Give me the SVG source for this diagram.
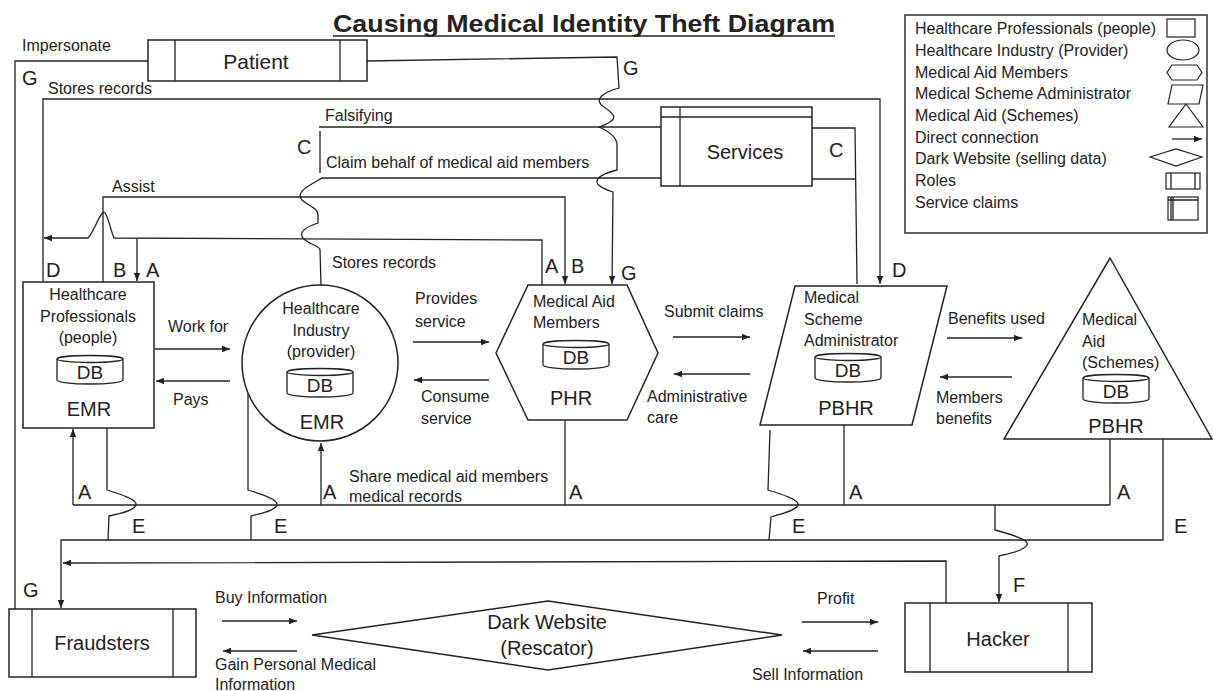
<svg xmlns="http://www.w3.org/2000/svg" xmlns:xlink="http://www.w3.org/1999/xlink" width="1213" height="691" viewBox="0 0 1213 691">
  <style>
    text { font-family: "Liberation Sans", Arial, sans-serif; fill: #222; }
    .t { font-size: 16px; }
    .big { font-size: 20px; }
    .key { font-size: 20px; }
    .mid { text-anchor: middle; }
    .ln { fill: none; stroke: #222; stroke-width: 1.3; }
    .arr { marker-end: url(#ah); }
    .nd { fill: #fff; stroke: #222; stroke-width: 1.5; }
    .sm { fill: #fff; stroke: #222; stroke-width: 1.2; }
  </style>
  <defs>
    <marker id="ah" viewBox="0 0 8 8" refX="8" refY="4" markerWidth="8" markerHeight="8" markerUnits="userSpaceOnUse" orient="auto">
      <path d="M0,0.8 L8,4 L0,7.2 Z" fill="#222"/>
    </marker>
    <!-- database cylinder, 66 x 29 -->
    <g id="db">
      <path d="M0,4 L0,25 A33,4 0 0,0 66,25 L66,4" fill="#fff" stroke="#222" stroke-width="1.3"/>
      <ellipse cx="33" cy="4" rx="33" ry="3.5" fill="#fff" stroke="#222" stroke-width="1.3"/>
    </g>
  </defs>

  <rect width="1213" height="691" fill="#fff"/>

  <!-- title -->
  <text x="333" y="32" font-size="24" font-weight="bold" textLength="502" lengthAdjust="spacingAndGlyphs">Causing Medical Identity Theft Diagram</text>
  <line x1="333" y1="36" x2="835" y2="36" stroke="#222" stroke-width="1.6"/>

  <!-- connectors -->
  <g id="connectors">
    <!-- G: patient impersonated by fraudsters -->
    <path class="ln" d="M148,61 L15,61 L15,613"/>
    <!-- G: patient to medical aid members -->
    <path class="ln arr" d="M367,61 L617,57 L619,88 C605,92 592,99 604,107 C614,114 622,119 599,127 C610,132 617,138 617,145 L617,170 C600,174 584,183 613,192 L612,284"/>
    <!-- D: stores records to scheme administrator -->
    <path class="ln arr" d="M43,281 L43,99 L880,99 L880,284"/>
    <!-- C: falsifying / claims via services -->
    <path class="ln" d="M661,127 L319,127"/>
    <path class="ln" d="M320,131 L320,173"/>
    <path class="ln" d="M661,178 L322,178 C312,184 294,192 302,200 C310,207 318,208 318,215 L318,223 C306,227 296,233 305,240 C313,246 320,246 320,250 L321,285"/>
    <path class="ln" d="M812,128 L855,128 L857,284"/>
    <path class="ln" d="M812,179 L855,179"/>
    <!-- B: assist -->
    <path class="ln arr" d="M103,282 L103,197 L565,197 L565,284"/>
    <!-- A: stores records from medical aid members -->
    <path class="ln arr" d="M542,285 L542,240 L114,238 C110,228 107,212 104,212 C100,212 95,230 88,238 L44,238"/>
    <path class="ln arr" d="M137,238 L137,281"/>

    <!-- horizontal links between the main nodes -->
    <path class="ln arr" d="M155,349 L230,349"/>
    <path class="ln arr" d="M230,381 L156,381"/>
    <path class="ln arr" d="M413,342 L489,342"/>
    <path class="ln arr" d="M489,380 L414,380"/>
    <path class="ln arr" d="M673,337 L750,337"/>
    <path class="ln arr" d="M750,374 L674,374"/>
    <path class="ln arr" d="M947,338 L1022,338"/>
    <path class="ln arr" d="M1012,377 L940,377"/>

    <!-- A: shared medical records bus -->
    <path class="ln" d="M73,505 L1110,505"/>
    <path class="ln arr" d="M73,505 L73,429"/>
    <path class="ln arr" d="M321,505 L321,443"/>
    <path class="ln" d="M565,420 L565,505"/>
    <path class="ln" d="M844,425 L844,505"/>
    <path class="ln" d="M1110,439 L1110,505"/>

    <!-- E: leaked records bus to fraudsters -->
    <path class="ln arr" d="M1163,439 L1163,540 L61,540 L61,608"/>
    <path class="ln" d="M107,428 L107,490 C120,494 138,500 136,505 C134,511 118,514 109,516 L108,540"/>
    <path class="ln" d="M248,393 L248,490 C261,494 279,500 277,505 C275,511 259,514 251,516 L251,540"/>
    <path class="ln" d="M770,430 L768,490 C781,494 800,500 798,505 C796,511 780,514 771,517 L769,540"/>

    <!-- F: records to hacker -->
    <path class="ln arr" d="M995,505 L995,530 C1010,534 1030,540 1027,545 C1024,551 1008,554 999,556 L999,602"/>
    <!-- hacker back to fraudsters -->
    <path class="ln arr" d="M946,603 L946,561 L63,563"/>

    <!-- dark website trade -->
    <path class="ln arr" d="M222,621 L297,621"/>
    <path class="ln arr" d="M297,651 L223,651"/>
    <path class="ln arr" d="M802,622 L878,622"/>
    <path class="ln arr" d="M878,651 L803,651"/>

    <!-- connector labels -->
    <text class="t" x="22" y="51">Impersonate</text>
    <text class="key" x="22" y="85">G</text>
    <text class="t" x="48" y="94">Stores records</text>
    <text class="key" x="623" y="75">G</text>
    <text class="t" x="325" y="121">Falsifying</text>
    <text class="key" x="297" y="154">C</text>
    <text class="t" x="326" y="168">Claim behalf of medical aid members</text>
    <text class="key" x="829" y="157">C</text>
    <text class="t" x="112" y="192">Assist</text>
    <text class="t" x="332" y="268">Stores records</text>
    <text class="key" x="46" y="277">D</text>
    <text class="key" x="113" y="277">B</text>
    <text class="key" x="146" y="277">A</text>
    <text class="key" x="545" y="273">A</text>
    <text class="key" x="571" y="273">B</text>
    <text class="key" x="621" y="280">G</text>
    <text class="key" x="892" y="277">D</text>

    <text class="t" x="168" y="332">Work for</text>
    <text class="t" x="173" y="405">Pays</text>
    <text class="t" x="415" y="304">Provides</text>
    <text class="t" x="415" y="327">service</text>
    <text class="t" x="421" y="402">Consume</text>
    <text class="t" x="421" y="424">service</text>
    <text class="t" x="664" y="317">Submit claims</text>
    <text class="t" x="647" y="402">Administrative</text>
    <text class="t" x="647" y="423">care</text>
    <text class="t" x="948" y="324">Benefits used</text>
    <text class="t" x="936" y="403">Members</text>
    <text class="t" x="936" y="424">benefits</text>

    <text class="key" x="78" y="499">A</text>
    <text class="key" x="323" y="499">A</text>
    <text class="t" x="349" y="482">Share medical aid members</text>
    <text class="t" x="349" y="502">medical records</text>
    <text class="key" x="569" y="499">A</text>
    <text class="key" x="849" y="499">A</text>
    <text class="key" x="1117" y="499">A</text>
    <text class="key" x="132" y="533">E</text>
    <text class="key" x="274" y="533">E</text>
    <text class="key" x="792" y="533">E</text>
    <text class="key" x="1174" y="533">E</text>
    <text class="key" x="1013" y="592">F</text>
    <text class="key" x="23" y="597">G</text>

    <text class="t" x="215" y="603">Buy Information</text>
    <text class="t" x="215" y="670">Gain Personal Medical</text>
    <text class="t" x="215" y="690">Information</text>
    <text class="t" x="817" y="604">Profit</text>
    <text class="t" x="752" y="680">Sell Information</text>
  </g>

  <!-- nodes -->
  <g id="patient">
    <rect class="nd" x="148" y="40" width="219" height="41"/>
    <path class="ln" d="M175,40 L175,81 M340,40 L340,81"/>
    <text class="mid" x="256" y="69" font-size="21">Patient</text>
  </g>

  <g id="services">
    <rect class="nd" x="661" y="107" width="151" height="79"/>
    <path class="ln" d="M680,107 L680,186 M661,117 L812,117"/>
    <text class="big mid" x="745" y="159">Services</text>
  </g>

  <g id="healthcare-professionals">
    <rect class="nd" x="23" y="282" width="131" height="146"/>
    <text class="t mid" x="88" y="300">Healthcare</text>
    <text class="t mid" x="88" y="322">Professionals</text>
    <text class="t mid" x="88" y="343">(people)</text>
    <use xlink:href="#db" x="57" y="355"/>
    <text class="mid" x="90" y="379" font-size="19">DB</text>
    <text class="big mid" x="89" y="416">EMR</text>
  </g>

  <g id="healthcare-industry">
    <circle class="nd" cx="320" cy="363" r="78"/>
    <text class="t mid" x="321" y="314">Healthcare</text>
    <text class="t mid" x="321" y="336">Industry</text>
    <text class="t mid" x="321" y="357">(provider)</text>
    <use xlink:href="#db" x="287" y="368"/>
    <text class="mid" x="320" y="392" font-size="19">DB</text>
    <text class="big mid" x="322" y="429">EMR</text>
  </g>

  <g id="medical-aid-members">
    <polygon class="nd" points="528,285 627,285 658,353 627,420 528,420 496,353"/>
    <text class="t" x="533" y="307">Medical Aid</text>
    <text class="t" x="533" y="328">Members</text>
    <use xlink:href="#db" x="543" y="340"/>
    <text class="mid" x="576" y="364" font-size="19">DB</text>
    <text class="big mid" x="571" y="405">PHR</text>
  </g>

  <g id="scheme-administrator">
    <polygon class="nd" points="795,286 947,286 912,425 760,425"/>
    <text class="t" x="804" y="303">Medical</text>
    <text class="t" x="804" y="325">Scheme</text>
    <text class="t" x="804" y="346">Administrator</text>
    <use xlink:href="#db" x="815" y="353"/>
    <text class="mid" x="848" y="377" font-size="19">DB</text>
    <text class="big mid" x="846" y="415">PBHR</text>
  </g>

  <g id="medical-aid-schemes">
    <polygon class="nd" points="1110,258 1212,439 1004,439"/>
    <text class="t" x="1082" y="325">Medical</text>
    <text class="t" x="1082" y="347">Aid</text>
    <text class="t" x="1082" y="368">(Schemes)</text>
    <use xlink:href="#db" x="1083" y="374"/>
    <text class="mid" x="1116" y="398" font-size="19">DB</text>
    <text class="big mid" x="1116" y="433">PBHR</text>
  </g>

  <g id="fraudsters">
    <rect class="nd" x="9" y="609" width="187" height="68"/>
    <path class="ln" d="M32,609 L32,677 M173,609 L173,677"/>
    <text class="big mid" x="102" y="650">Fraudsters</text>
  </g>

  <g id="dark-website">
    <polygon class="nd" points="312,635 548,601 782,635 548,670"/>
    <text class="big mid" x="547" y="629">Dark Website</text>
    <text class="big mid" x="547" y="655">(Rescator)</text>
  </g>

  <g id="hacker">
    <rect class="nd" x="905" y="603" width="187" height="69"/>
    <path class="ln" d="M930,603 L930,672 M1068,603 L1068,672"/>
    <text class="big mid" x="998" y="646">Hacker</text>
  </g>

  <!-- legend -->
  <g id="legend">
    <rect x="905" y="15" width="302" height="218" fill="#fff" stroke="#222" stroke-width="1.4"/>
    <text class="t" x="915" y="34">Healthcare Professionals (people)</text>
    <text class="t" x="915" y="56">Healthcare Industry (Provider)</text>
    <text class="t" x="915" y="78">Medical Aid Members</text>
    <text class="t" x="915" y="99">Medical Scheme Administrator</text>
    <text class="t" x="915" y="121">Medical Aid (Schemes)</text>
    <text class="t" x="915" y="143">Direct connection</text>
    <text class="t" x="915" y="164">Dark Website (selling data)</text>
    <text class="t" x="915" y="186">Roles</text>
    <text class="t" x="915" y="208">Service claims</text>
    <rect class="sm" x="1167" y="19" width="28" height="18"/>
    <ellipse class="sm" cx="1183" cy="50" rx="16" ry="10"/>
    <polygon class="sm" points="1172,65 1197,65 1202,72.5 1197,80 1172,80 1167,72.5"/>
    <polygon class="sm" points="1172,85 1203,85 1199,104 1168,104"/>
    <polygon class="sm" points="1186,104 1203,127 1169,127"/>
    <path class="ln arr" d="M1172,139 L1202,139"/>
    <polygon class="sm" points="1150,157 1176,149 1202,157 1176,166"/>
    <rect class="sm" x="1166" y="173" width="34" height="16"/>
    <path class="ln" d="M1171,173 L1171,189 M1195,173 L1195,189"/>
    <rect class="sm" x="1168" y="197" width="30" height="23"/>
    <path class="ln" d="M1171,197 L1171,220 M1173,197 L1173,220 M1168,200 L1198,200"/>
  </g>
</svg>
